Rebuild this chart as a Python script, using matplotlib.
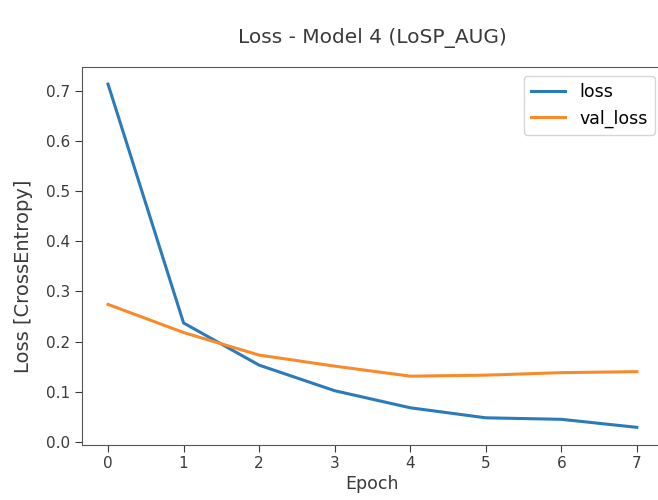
import matplotlib
matplotlib.use("Agg")
import matplotlib.pyplot as plt

epochs = [0, 1, 2, 3, 4, 5, 6, 7]
loss = [0.713, 0.237, 0.153, 0.102, 0.068, 0.048, 0.045, 0.029]
val_loss = [0.274, 0.218, 0.173, 0.151, 0.131, 0.133, 0.138, 0.140]

plt.rcParams['font.family'] = ['DejaVu Sans']
fig = plt.figure(figsize=(6.58, 5.0), dpi=100)
ax = fig.add_axes([0.124, 0.111, 0.884, 0.755])
ax.plot(epochs, loss, color='#2b7bba', lw=2.2, label='loss')
ax.plot(epochs, val_loss, color='#f98a2a', lw=2.2, label='val_loss')
ax.set_title('Loss - Model 4 (LoSP_AUG)', fontsize=14.5, color='#3a3a3a', pad=17)
ax.set_xlabel('Epoch', fontsize=12.5, color='#3a3a3a', labelpad=3)
ax.set_ylabel('Loss [CrossEntropy]', fontsize=14, color='#3a3a3a')
ax.yaxis.set_label_coords(-0.084, 0.446)
ax.tick_params(labelsize=11, colors='#3a3a3a', length=5)
for s in ax.spines.values():
    s.set_color('#555555')
ax.legend(loc='upper right', fontsize=12.5)
fig.savefig('out.png', dpi=100)
